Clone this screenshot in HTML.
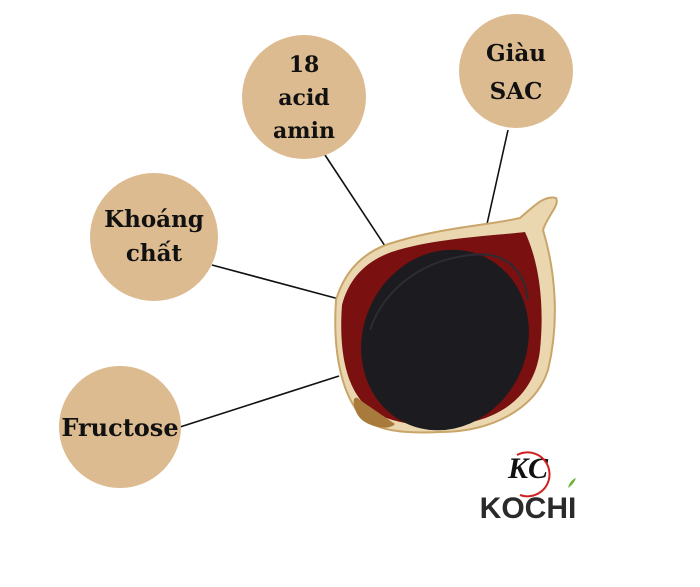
<!DOCTYPE html>
<html><head><meta charset="utf-8"><style>
html,body{margin:0;padding:0;background:#fff;}
svg{display:block}
text{font-family:"DejaVu Serif","Liberation Serif",serif;font-weight:bold;fill:#111;text-anchor:middle}
</style></head><body>
<svg width="700" height="587" viewBox="0 0 700 587" xmlns="http://www.w3.org/2000/svg">
<rect width="700" height="587" fill="#fff"/>
<g stroke="#111" stroke-width="1.6">
<line x1="325" y1="155" x2="387" y2="249"/>
<line x1="508" y1="130" x2="485" y2="233"/>
<line x1="212" y1="265" x2="339" y2="299"/>
<line x1="180" y1="427" x2="339" y2="376"/>
</g>
<g fill="#ddbb90">
<circle cx="304" cy="97" r="62"/>
<circle cx="516" cy="71" r="57"/>
<circle cx="154" cy="237" r="64"/>
<circle cx="120" cy="427" r="61"/>
</g>
<text font-size="22"><tspan x="304" y="72">18</tspan><tspan x="304" y="105">acid</tspan><tspan x="304" y="138">amin</tspan></text>
<text font-size="23"><tspan x="516" y="61">Giàu</tspan><tspan x="516" y="99">SAC</tspan></text>
<text font-size="23"><tspan x="154" y="227">Khoáng</tspan><tspan x="154" y="261">chất</tspan></text>
<text font-size="24" x="120" y="436">Fructose</text>
<!-- garlic -->
<path d="M336,300 C345,270 365,250 395,242 C440,228 490,225 520,218 C535,205 545,195 556,198 C560,205 548,215 543,230 C555,270 560,320 548,370 C535,410 490,432 440,432 C400,434 370,430 358,412 C345,395 332,360 336,300 Z" fill="#ead7b0" stroke="#c9a56a" stroke-width="2"/>
<path d="M342,305 C350,275 370,258 398,250 C440,238 490,236 525,232 C538,260 545,300 540,350 C535,395 500,422 450,425 C410,427 380,420 365,405 C350,390 338,360 342,305 Z" fill="#7a1010"/>
<path d="M360,400 C350,390 352,415 365,422 C375,428 390,430 395,424 Z" fill="#a87a3c"/>
<ellipse cx="445" cy="340" rx="82" ry="92" transform="rotate(25 445 340)" fill="#1c1b20"/>
<path d="M370,330 C380,300 410,262 470,255 C510,250 525,275 528,300" fill="none" stroke="#2e2c33" stroke-width="2"/>
<!-- logo -->
<text x="528" y="478" font-size="30" font-style="italic" fill="#222" style="font-family:'Liberation Serif',serif">KC</text>
<path d="M517,455 A22,22 0 1 1 520,495" fill="none" stroke="#d02020" stroke-width="2"/>
<text x="528" y="518" font-size="30" style="font-family:'Liberation Sans',sans-serif;fill:#2a2a2a">KOCHI</text>
<path d="M568,488 q6,-4 8,-10 q-6,2 -8,10z" fill="#6fb13a"/>
</svg>
</body></html>
